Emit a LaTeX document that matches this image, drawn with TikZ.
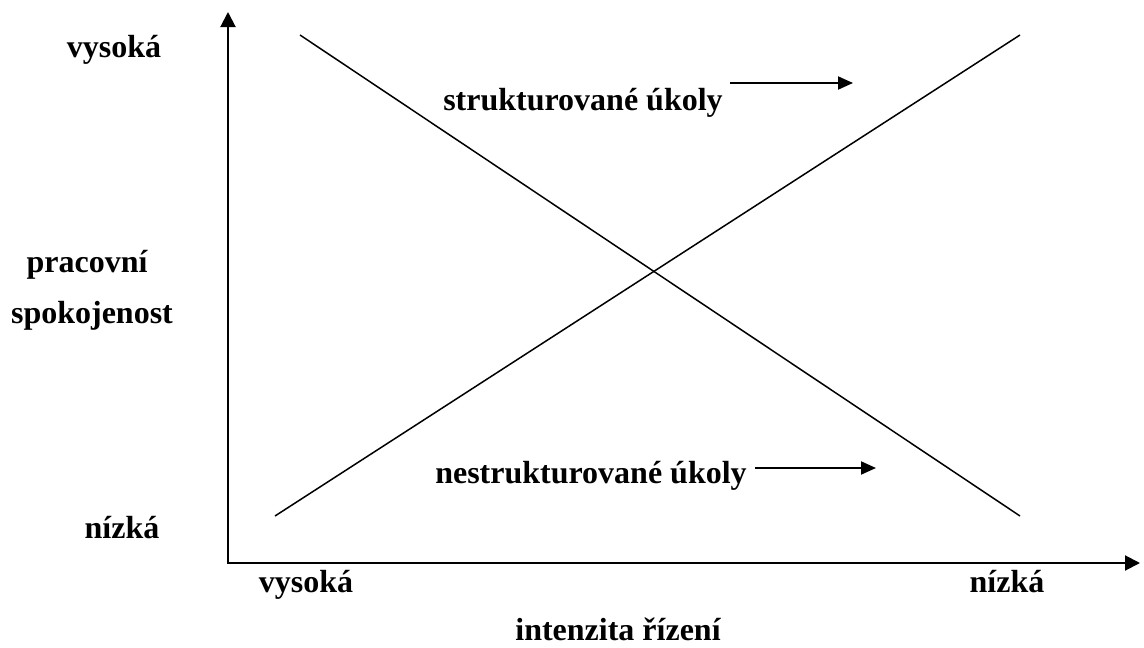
\documentclass[tikz,border=0pt]{standalone}
\usepackage{fontspec}
\setmainfont{Liberation Serif}
\usetikzlibrary{arrows.meta}

\begin{document}
\begin{tikzpicture}
          [x=1pt,y=-1pt,every node/.style={font=\fontsize{32}{38}\selectfont\bfseries, inner sep=0pt, anchor=base},
           axis/.style={line width=2pt, -{Triangle[length=15pt,width=15pt]}},
           curve/.style={line width=1.5pt},
           hint/.style={line width=2pt, -{Triangle[length=15pt,width=13pt]}}]
        \useasboundingbox (0,0) rectangle (1144,648);

        % axes
        \coordinate (o) at (228,563);
        \coordinate (ytop) at (228,12);
        \coordinate (xend) at (1140,563);
        \draw[axis] ([yshift=1pt]o) -- (ytop);
        \draw[axis] ([xshift=-1pt]o) -- (xend);

        % labels
        \node (yhi) at (114,57) {vysoká};
        \node (ylab1) at (87,272) {pracovní};
        \node (ylab2) at (92,323) {spokojenost};
        \node (ylo) at (122,538) {nízká};
        \node (xhi) at (306,592) {vysoká};
        \node (xlo) at (1007,592) {nízká};
        \node (xlab) at (618,640) {intenzita řízení};

        % the two lines
        \coordinate (a1) at (300,35);
        \coordinate (a2) at (1020,516);
        \coordinate (b1) at (275,516);
        \coordinate (b2) at (1020,35);
        \foreach \from/\to in {a1/a2, b1/b2}
          \draw[curve] (\from) -- (\to);

        \node (s) at (583,110) {strukturované úkoly};
        \node (n) at (591,483) {nestrukturované úkoly};
        \coordinate (s2) at (853,83);
        \coordinate (n2) at (876,468);
        \draw[hint] (730,83) -- (s2);
        \draw[hint] (755,468) -- (n2);
      \end{tikzpicture}
\end{document}
